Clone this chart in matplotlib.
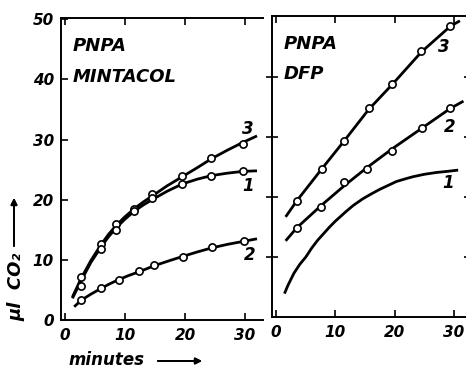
import numpy as np
import matplotlib
matplotlib.use('Agg')
import matplotlib.pyplot as plt

# ---- left panel: PNPA + MINTACOL ----
t_left = [2.7, 5.9, 8.4, 11.4, 14.5, 19.5, 24.4, 29.6]
v_left_3 = [7.1, 12.6, 16.0, 18.5, 21.0, 24.0, 27.0, 29.3]
v_left_1 = [5.6, 11.8, 14.9, 18.1, 20.3, 22.6, 24.0, 24.7]
t_left_2 = [2.7, 5.9, 8.9, 12.3, 14.8, 19.7, 24.5, 29.9]
v_left_2 = [3.4, 5.4, 6.6, 8.2, 9.1, 10.5, 12.1, 13.1]

# drawn curves
ct_left = [1.2, 2.7, 4.3, 5.9, 7.2, 8.4, 9.9, 11.4, 13.0, 14.5, 17.0, 19.5, 22.0, 24.4, 27.0, 29.6, 32.0]
cv_left_3 = [3.8, 7.0, 9.9, 12.4, 14.2, 15.6, 17.1, 18.4, 19.6, 20.6, 22.3, 23.8, 25.3, 26.8, 28.2, 29.5, 30.6]
cv_left_1 = [3.6, 6.6, 9.6, 12.0, 13.8, 15.2, 16.7, 18.0, 19.1, 20.0, 21.4, 22.6, 23.4, 24.0, 24.4, 24.7, 24.8]
ct_left_2 = [1.5, 2.7, 4.3, 5.9, 7.4, 8.9, 10.6, 12.3, 14.8, 17.2, 19.7, 22.0, 24.5, 27.2, 29.9, 32.0]
cv_left_2 = [2.2, 3.3, 4.3, 5.2, 6.0, 6.7, 7.4, 8.0, 9.0, 9.8, 10.6, 11.3, 12.0, 12.6, 13.1, 13.5]

# ---- right panel: PNPA + DFP ----
t_right_3 = [3.5, 7.7, 11.5, 15.6, 19.6, 24.5, 29.4]
v_right_3 = [19.4, 24.7, 29.4, 34.8, 38.8, 44.4, 48.5]
t_right_2 = [3.5, 7.6, 11.5, 15.3, 19.5, 24.6, 29.4]
v_right_2 = [14.9, 18.4, 22.5, 24.7, 27.7, 31.6, 34.8]

ct_right_3 = [1.6, 3.5, 7.7, 11.5, 15.6, 19.6, 24.5, 29.4, 31.0]
cv_right_3 = [16.7, 19.4, 24.7, 29.4, 34.6, 38.8, 44.2, 48.5, 49.4]
ct_right_2 = [1.6, 3.5, 7.6, 11.5, 15.3, 19.5, 24.6, 29.4, 31.6]
cv_right_2 = [12.7, 14.9, 18.6, 21.9, 24.9, 28.0, 31.5, 34.8, 36.0]
ct_right_1 = [1.4, 2.0, 3.0, 4.0, 5.0, 6.0, 7.0, 8.0, 9.0, 10.0, 11.8, 13.0, 14.6, 16.0,
              17.5, 19.0, 20.3, 22.0, 23.1, 25.0, 27.0, 29.0, 30.7]
cv_right_1 = [3.9, 5.3, 7.3, 8.8, 10.0, 11.5, 12.8, 13.9, 15.0, 16.0, 17.6, 18.6, 19.7, 20.5,
              21.3, 22.0, 22.6, 23.1, 23.4, 23.8, 24.1, 24.3, 24.5]

W, H = 466, 372
fig = plt.figure(figsize=(W / 100, H / 100), dpi=100)

tick_font = dict(family='DejaVu Sans', weight='bold', style='italic', size=11)
text_font = dict(family='DejaVu Sans', weight='bold', style='italic', size=12)
title_font = dict(family='DejaVu Sans', weight='bold', style='italic', size=13)

ax1 = fig.add_axes([61 / W, (H - 320) / H, 202 / W, 302 / H])
ax2 = fig.add_axes([272 / W, (H - 317) / H, 198 / W, 301 / H])

line_kw = dict(color='black', lw=2.0, solid_capstyle='butt')
mark_kw = dict(ls='none', marker='o', ms=5.2, mfc='white', mec='black', mew=1.2, zorder=3)

# left panel
ax1.plot(ct_left, cv_left_3, **line_kw)
ax1.plot(ct_left, cv_left_1, **line_kw)
ax1.plot(ct_left_2, cv_left_2, **line_kw)
ax1.plot(t_left, v_left_3, **mark_kw)
ax1.plot(t_left, v_left_1, **mark_kw)
ax1.plot(t_left_2, v_left_2, **mark_kw)
ax1.set_xlim(-0.7, 33.0)
ax1.set_ylim(0, 50.2)
ax1.spines['right'].set_visible(False)
ax1.set_yticks([0, 10, 20, 30, 40, 50])
ax1.set_xticks([0, 10, 20, 30])
ax1.tick_params(axis='both', direction='in', length=5, width=1.2, top=True,
                labeltop=False)
ax1.tick_params(axis='x', pad=6)
ax1.tick_params(axis='y', pad=5)
for lab in ax1.get_xticklabels() + ax1.get_yticklabels():
    lab.set(**tick_font)
ax1.text(30.5, 31.8, '3', ha='center', va='center', **text_font)
ax1.text(30.5, 22.2, '1', ha='center', va='center', **text_font)
ax1.text(30.8, 10.8, '2', ha='center', va='center', **text_font)
ax1.text(1.3, 45.6, 'PNPA', ha='left', va='center', **title_font)
ax1.text(1.3, 40.4, 'MINTACOL', ha='left', va='center', **title_font)

# right panel
ax2.plot(ct_right_3, cv_right_3, **line_kw)
ax2.plot(ct_right_2, cv_right_2, **line_kw)
ax2.plot(ct_right_1, cv_right_1, **line_kw)
ax2.plot(t_right_3, v_right_3, **mark_kw)
ax2.plot(t_right_2, v_right_2, **mark_kw)
ax2.set_xlim(-0.7, 32.7)
ax2.set_ylim(0, 50.2)
ax2.set_xticks([0, 10, 20, 30])
ax2.set_yticks([10, 20, 30, 40])
ax2.tick_params(axis='y', direction='inout', length=8, width=1.2, labelleft=False,
                right=True)
ax2.tick_params(axis='x', direction='in', length=5, width=1.2, top=True, pad=6)
for lab in ax2.get_xticklabels():
    lab.set(**tick_font)
ax2.text(28.3, 45.0, '3', ha='center', va='center', **text_font)
ax2.text(29.2, 31.7, '2', ha='center', va='center', **text_font)
ax2.text(29.0, 22.4, '1', ha='center', va='center', **text_font)
ax2.text(1.3, 45.6, 'PNPA', ha='left', va='center', **title_font)
ax2.text(1.3, 40.6, 'DFP', ha='left', va='center', **title_font)

for ax in (ax1, ax2):
    for sp in ax.spines.values():
        sp.set_linewidth(1.4)

# axis titles with long arrows
fig.text(16 / W, 1 - 287 / H, 'μl  CO₂', rotation=90, ha='center', va='center',
         **title_font)
fig.text(68 / W, 1 - 360 / H, 'minutes', ha='left', va='center', **text_font)
arrow = dict(arrowstyle='-|>', lw=1.4, color='black', mutation_scale=9,
             shrinkA=0, shrinkB=0)
fig.add_artist(plt.annotate('', xy=(14 / W, 1 - 198 / H), xytext=(14 / W, 1 - 246 / H),
                            xycoords='figure fraction', arrowprops=arrow))
fig.add_artist(plt.annotate('', xy=(202 / W, 1 - 361 / H), xytext=(158 / W, 1 - 361 / H),
                            xycoords='figure fraction', arrowprops=arrow))

fig.savefig('out.png', dpi=100)
